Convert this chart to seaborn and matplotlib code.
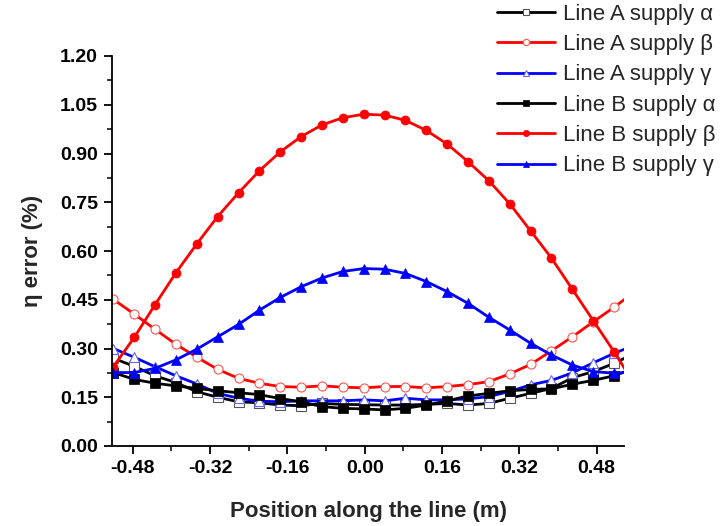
import numpy as np
import pandas as pd
import matplotlib
matplotlib.use("Agg")
import matplotlib.pyplot as plt
import seaborn as sns

# ---- data ----
positions = list(np.round(np.linspace(-0.52, 0.516, 25), 4)) + [0.559]

line_a_alpha = [0.270, 0.245, 0.216, 0.195, 0.167, 0.150, 0.136, 0.133, 0.126, 0.124, 0.131, 0.128, 0.127,
                0.126, 0.126, 0.128, 0.131, 0.126, 0.131, 0.147, 0.162, 0.177, 0.210, 0.229, 0.254, 0.286]
line_a_beta = [0.451, 0.406, 0.359, 0.313, 0.273, 0.236, 0.208, 0.193, 0.183, 0.181, 0.185, 0.181, 0.179,
               0.183, 0.183, 0.179, 0.183, 0.189, 0.198, 0.222, 0.251, 0.293, 0.336, 0.382, 0.427, 0.475]
line_a_gamma = [0.300, 0.273, 0.244, 0.216, 0.191, 0.162, 0.147, 0.138, 0.136, 0.139, 0.139, 0.139, 0.142,
                0.139, 0.147, 0.142, 0.142, 0.145, 0.152, 0.168, 0.188, 0.202, 0.225, 0.256, 0.285, 0.311]
line_b_alpha = [0.226, 0.205, 0.193, 0.185, 0.177, 0.170, 0.164, 0.158, 0.146, 0.136, 0.121, 0.116, 0.114,
                0.111, 0.116, 0.126, 0.139, 0.154, 0.162, 0.170, 0.174, 0.176, 0.190, 0.202, 0.216, 0.240]
line_b_beta = [0.244, 0.334, 0.435, 0.533, 0.622, 0.706, 0.779, 0.847, 0.905, 0.952, 0.988, 1.010, 1.021,
               1.018, 1.002, 0.971, 0.929, 0.875, 0.816, 0.745, 0.662, 0.578, 0.482, 0.386, 0.290, 0.188]
line_b_gamma = [0.226, 0.226, 0.239, 0.265, 0.298, 0.336, 0.374, 0.418, 0.457, 0.490, 0.517, 0.537, 0.546,
                0.544, 0.531, 0.506, 0.475, 0.439, 0.396, 0.357, 0.316, 0.280, 0.249, 0.229, 0.224, 0.228]

labels = ["Line A supply α", "Line A supply β", "Line A supply γ",
          "Line B supply α", "Line B supply β", "Line B supply γ"]
series = [line_a_alpha, line_a_beta, line_a_gamma, line_b_alpha, line_b_beta, line_b_gamma]

x_ticks = [-0.48, -0.32, -0.16, 0.00, 0.16, 0.32, 0.48]
y_ticks = [0.00, 0.15, 0.30, 0.45, 0.60, 0.75, 0.90, 1.05, 1.20]

# ---- styles ----
styles = [
    dict(color="black", marker="s", mfc="white", mec="#555555", open_=True),
    dict(color="#ff0000", marker="o", mfc="white", mec="#ff5555", open_=True),
    dict(color="#0000ff", marker="^", mfc="white", mec="#6666ff", open_=True),
    dict(color="black", marker="s", mfc="black", mec="black", open_=False),
    dict(color="#ff0000", marker="o", mfc="#ff0000", mec="#ff0000", open_=False),
    dict(color="#0000ff", marker="^", mfc="#0000ff", mec="#0000ff", open_=False),
]

sns.set_style("ticks")
plt.rcParams["font.family"] = ["Liberation Sans", "DejaVu Sans"]

fig = plt.figure(figsize=(7.23, 5.26), dpi=100)
ax = fig.add_axes([112 / 723, (526 - 446) / 526, (624 - 112) / 723, (446 - 56) / 526])

n_marked = 25
for lab, vals, st in zip(labels, series, styles):
    df = pd.DataFrame({"x": positions, "y": vals})
    sns.lineplot(data=df, x="x", y="y", ax=ax, color=st["color"], linewidth=2.0,
                 marker=st["marker"], markersize=6.5 if st["marker"] != "^" else 7,
                 markerfacecolor=st["mfc"], markeredgecolor=st["mec"],
                 markeredgewidth=0.8 if st["open_"] else 0.5,
                 markevery=slice(0, n_marked), label=lab, sort=False,
                 estimator=None, clip_on=True)

ax.set_xlim(-0.5228, 0.5365)
ax.set_ylim(0, 1.2)
ax.set_xticks(x_ticks)
ax.set_xticklabels([f"{v:.2f}" for v in x_ticks])
ax.set_yticks(y_ticks)
ax.set_yticklabels([f"{v:.2f}" for v in y_ticks])
ax.set_xticks([-0.40, -0.24, -0.08, 0.08, 0.24, 0.40], minor=True)
ax.set_yticks([0.075, 0.225, 0.375, 0.525, 0.675, 0.825, 0.975, 1.125], minor=True)

for lbl in ax.get_xticklabels() + ax.get_yticklabels():
    lbl.set_fontweight("bold")
    lbl.set_fontsize(14)

ax.tick_params(axis="both", which="major", length=6, width=1.3, direction="out", pad=4, colors="black")
ax.tick_params(axis="both", which="minor", length=3.5, width=1.3, direction="out")
for side in ["top", "right"]:
    ax.spines[side].set_visible(False)
for side in ["left", "bottom"]:
    ax.spines[side].set_linewidth(1.3)
    ax.spines[side].set_color("black")

ax.set_xlabel("Position along the line (m)", fontsize=16, fontweight="bold", labelpad=17)
ax.set_ylabel("η error (%)", fontsize=16, fontweight="bold", labelpad=12)

handles, labs = ax.get_legend_handles_labels()
leg = ax.legend(handles, labs, loc="upper left", bbox_to_anchor=(497 / 723, 0.993),
                bbox_transform=fig.transFigure, frameon=False, fontsize=16,
                handlelength=2.6, handletextpad=0.35, labelspacing=0.42,
                borderpad=0, borderaxespad=0, markerscale=0.7)

fig.savefig("out.png", dpi=100)
